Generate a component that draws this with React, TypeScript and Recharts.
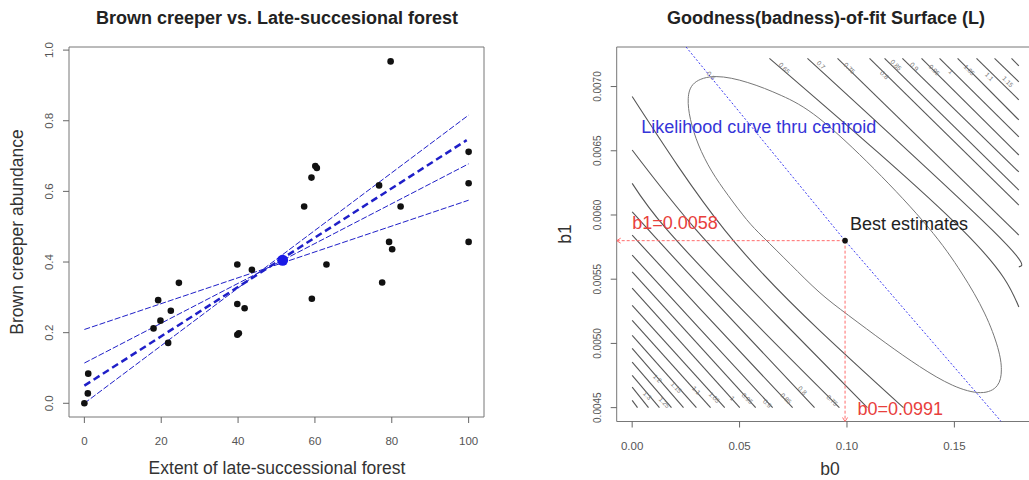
import React from "react";
import { ReferenceArea, Scatter, ScatterChart, XAxis, YAxis } from "recharts";

const FONT = '"Liberation Sans", Arial, sans-serif';

// ---- left panel: brown creeper vs. forest ----
const forestExtent = [79.7, 100, 100, 60.1, 60.5, 59.1, 57.2, 76.7, 82.3, 79.3, 80.1, 100, 63, 77.5, 59.2, 39.8, 43.6, 39.8, 41.7, 39.8, 40.2, 24.6, 19.2, 22.5, 19.8, 18.0, 21.8, 1.0, 0.9, 0];
const creeperAbundance = [0.968, 0.712, 0.623, 0.672, 0.666, 0.639, 0.557, 0.617, 0.557, 0.457, 0.436, 0.457, 0.393, 0.342, 0.296, 0.393, 0.378, 0.281, 0.269, 0.194, 0.198, 0.341, 0.292, 0.262, 0.234, 0.212, 0.171, 0.084, 0.028, 0.0];
const centroid = [51.6, 0.405];
const lineX = [0, 100];
const shallowLine = [0.209, 0.575];
const middleLine = [0.114, 0.678];
const steepLine = [0.0, 0.816];
const fitLineX = [0, 99.5];
const fitLine = [0.05, 0.745];
const forestTicks = [0, 20, 40, 60, 80, 100];
const abundanceTicks = [0, 0.2, 0.4, 0.6, 0.8, 1.0];
const forestDomain = [-4, 104];
const abundanceDomain = [-0.0388, 1.0088];

// ---- right panel: fit surface ----
const b0Ticks = [0, 0.05, 0.1, 0.15];
const b1Ticks = [0.0045, 0.005, 0.0055, 0.006, 0.0065, 0.007];
const b0Domain = [-0.0072, 0.1872];
const b1Domain = [0.004392, 0.007308];
const best = [0.0991, 0.0058];

// innermost contour (closed)
const innerContour = [
  [0.0383, 0.007097], [0.0538, 0.007039], [0.0694, 0.006935], [0.0849, 0.006805],
  [0.1128, 0.006366], [0.1399, 0.005882], [0.1539, 0.005544], [0.1648, 0.005232],
  [0.171, 0.004946], [0.1723, 0.00479], [0.171, 0.00466], [0.1632, 0.004595],
  [0.1493, 0.00466], [0.1338, 0.004816], [0.1183, 0.004998], [0.0996, 0.005232],
  [0.0872, 0.005388], [0.0737, 0.005617], [0.06, 0.005843], [0.0538, 0.005947],
  [0.0445, 0.006155], [0.0368, 0.006337], [0.0305, 0.006545], [0.0267, 0.006753],
  [0.0256, 0.00691], [0.0275, 0.007039],
];

// lower-left contour branches, levels 0.65 .. 1.4
const lowerContours = [
  [[0, 0.006922], [0.0431, 0.005882], [0.0872, 0.005102], [0.1263, 0.0045]],
  [[0, 0.006506], [0.0299, 0.005882], [0.0686, 0.005196], [0.1095, 0.0045]],
  [[0, 0.006246], [0.0164, 0.005882], [0.0546, 0.005204], [0.0965, 0.0045]],
  [[0, 0.006025], [0.0313, 0.005453], [0.0849, 0.0045]],
  [[0, 0.005843], [0.0313, 0.005274], [0.0747, 0.0045]],
  [[0, 0.005687], [0.0313, 0.005118], [0.0654, 0.0045]],
  [[0, 0.005557], [0.0575, 0.0045]],
  [[0, 0.00543], [0.0501, 0.0045]],
  [[0, 0.005297], [0.0431, 0.0045]],
  [[0, 0.00518], [0.0365, 0.0045]],
  [[0, 0.005063], [0.0299, 0.0045]],
  [[0, 0.004962], [0.0239, 0.0045]],
  [[0, 0.004855], [0.0183, 0.0045]],
  [[0, 0.004751], [0.0127, 0.0045]],
  [[0, 0.00466], [0.0076, 0.0045]],
  [[0, 0.004556], [0.0025, 0.0045]],
];

// upper-right contour branches, levels 0.65 .. 1.2
const upperContours = [
  [[0.0639, 0.00722], [0.1538, 0.005882], [0.18, 0.005284]],
  [[0.0816, 0.00722], [0.1677, 0.005882], [0.18, 0.005596]],
  [[0.0956, 0.00722], [0.18, 0.005843]],
  [[0.1105, 0.00722], [0.18, 0.006077]],
  [[0.1175, 0.00722], [0.18, 0.006194]],
  [[0.1258, 0.00722], [0.18, 0.006335]],
  [[0.1347, 0.00722], [0.18, 0.006467]],
  [[0.1431, 0.00722], [0.18, 0.006608]],
  [[0.1515, 0.00722], [0.18, 0.00674]],
  [[0.1603, 0.00722], [0.18, 0.006896]],
  [[0.1687, 0.00722], [0.18, 0.007037]],
  [[0.1766, 0.00722], [0.18, 0.007161]],
];

const contourLabels = ["0.6", "0.65", "0.7", "0.75", "0.8", "0.85", "0.9", "0.95", "1", "1.05", "1.1", "1.15", "1.3", "1.25", "1.2", "1.15", "1.1", "1.05", "1", "0.95", "0.9", "0.85", "0.8", "0.75"];
const contourLabelB0 = [0.0368, 0.0709, 0.088, 0.1012, 0.1175, 0.1229, 0.1314, 0.1407, 0.1485, 0.157, 0.1663, 0.1749, 0.0071, 0.015, 0.0118, 0.0206, 0.0299, 0.0383, 0.0467, 0.0537, 0.063, 0.0717, 0.0793, 0.0932];
const contourLabelB1 = [0.007086, 0.007144, 0.007169, 0.007144, 0.007091, 0.007169, 0.007156, 0.00713, 0.007117, 0.00713, 0.007078, 0.007039, 0.004595, 0.004541, 0.004728, 0.004658, 0.004635, 0.00458, 0.004572, 0.004572, 0.004533, 0.004572, 0.004635, 0.004556];

const likelihoodCurve = [[0.0251, 0.007308], [0.0991, 0.0058], [0.1718, 0.004392]];

const annotations = [
  { x: 0.0042, y: 0.006688, label: "Likelihood curve thru centroid", color: "#3535d8" },
  { x: 0.1014, y: 0.005929, label: "Best estimates", color: "#222" },
  { x: 0.0, y: 0.005939, label: "b1=0.0058", color: "#e8403c" },
  { x: 0.1049, y: 0.004492, label: "b0=0.0991", color: "#e8403c" },
];

// arrow tips of the red guide lines: rotation 0 = pointing left, -90 = pointing down
const arrowTips = [
  { x: b0Domain[0], y: best[1], rot: 0 },
  { x: best[0], y: b1Domain[0], rot: -90 },
];

const pairsToPts = (pairs: number[][]) => pairs.map(([x, y]) => ({ x, y }));

const NoDot = () => <g />;

const xTick = (fmt: (v: number) => string) => (p: any) => (
  <text x={p.x} y={p.y} dy={20} textAnchor="middle" fill="#555" fontSize={11.5} fontFamily={FONT}>
    {fmt(p.payload.value)}
  </text>
);

const yTick = (fmt: (v: number) => string, size: number) => (p: any) => {
  const bx = p.x - 7.5;
  return (
    <text x={bx} y={p.y} transform={`rotate(-90 ${bx} ${p.y})`} textAnchor="middle" fill="#555" fontSize={size} fontFamily={FONT}>
      {fmt(p.payload.value)}
    </text>
  );
};

const Caption = ({ x, y, size, text, bold, rotate, color }: any) => (
  <div
    style={{
      position: "absolute",
      left: x,
      top: y,
      transform: `translate(-50%, -50%)${rotate ? " rotate(-90deg)" : ""}`,
      fontSize: size,
      fontWeight: bold ? "bold" : "normal",
      color: color || "#333",
      whiteSpace: "nowrap",
      lineHeight: 1,
    }}
  >
    {text}
  </div>
);

const LeftPanel = () => {
  const points = forestExtent.map((x, i) => ({ x, y: creeperAbundance[i] }));
  const straight = [shallowLine, middleLine, steepLine];
  return (
    <ScatterChart width={520} height={480} margin={{ top: 47, right: 36, bottom: 33, left: 39 }}>
      <XAxis type="number" dataKey="x" domain={forestDomain} ticks={forestTicks} allowDataOverflow interval={0}
        axisLine={false} tickLine={{ stroke: "#666" }} tickSize={6} height={30} tick={xTick((v) => String(v))} />
      <YAxis type="number" dataKey="y" domain={abundanceDomain} ticks={abundanceTicks} allowDataOverflow interval={0}
        axisLine={false} tickLine={{ stroke: "#666" }} tickSize={6} width={30} tick={yTick((v) => v.toFixed(1), 11.5)} />
      <ReferenceArea x1={forestDomain[0]} x2={forestDomain[1]} y1={abundanceDomain[0]} y2={abundanceDomain[1]}
        fill="none" stroke="#777" strokeWidth={1} ifOverflow="visible" />
      {straight.map((ys, i) => (
        <Scatter key={i} data={lineX.map((x, j) => ({ x, y: ys[j] }))} shape={NoDot} isAnimationActive={false}
          line={{ stroke: "#1f1fc8", strokeWidth: 1, strokeDasharray: "6 2" }} />
      ))}
      <Scatter data={fitLineX.map((x, j) => ({ x, y: fitLine[j] }))} shape={NoDot} isAnimationActive={false}
        line={{ stroke: "#1f1fc8", strokeWidth: 2.5, strokeDasharray: "7 4" }} />
      <Scatter data={points} isAnimationActive={false}
        shape={(p: any) => <circle cx={p.cx} cy={p.cy} r={3.3} fill="#111" />} />
      <Scatter data={[{ x: centroid[0], y: centroid[1] }]} isAnimationActive={false}
        shape={(p: any) => <circle cx={p.cx} cy={p.cy} r={5.5} fill="#1a1ae6" />} />
    </ScatterChart>
  );
};

const RightPanel = () => {
  const labels = contourLabels.map((label, i) => ({ x: contourLabelB0[i], y: contourLabelB1[i], label }));
  return (
    <ScatterChart width={520} height={480} margin={{ top: 47, right: 5.7, bottom: 28.5, left: 66.7 }}>
      <XAxis type="number" dataKey="x" domain={b0Domain} ticks={b0Ticks} allowDataOverflow interval={0}
        axisLine={false} tickLine={{ stroke: "#666" }} tickSize={6} height={30} tick={xTick((v) => v.toFixed(2))} />
      <YAxis type="number" dataKey="y" domain={b1Domain} ticks={b1Ticks} allowDataOverflow interval={0}
        axisLine={false} tickLine={{ stroke: "#666" }} tickSize={6} width={30} tick={yTick((v) => v.toFixed(4), 10)} />
      <ReferenceArea x1={b0Domain[0]} x2={b0Domain[1]} y1={b1Domain[0]} y2={b1Domain[1]}
        fill="none" stroke="#777" strokeWidth={1} ifOverflow="visible" />
      <Scatter data={pairsToPts(innerContour)} shape={NoDot} isAnimationActive={false}
        line={{ stroke: "#777", strokeWidth: 1 }} lineJointType="basisClosed" />
      {lowerContours.map((c, i) => (
        <Scatter key={"lo" + i} data={pairsToPts(c)} shape={NoDot} isAnimationActive={false}
          line={{ stroke: "#555", strokeWidth: 1.1 }} lineJointType="natural" />
      ))}
      {upperContours.map((c, i) => (
        <Scatter key={"up" + i} data={pairsToPts(c)} shape={NoDot} isAnimationActive={false}
          line={{ stroke: "#555", strokeWidth: 1.1 }} lineJointType="natural" />
      ))}
      <Scatter data={labels} isAnimationActive={false}
        shape={(p: any) => (
          <text x={p.cx} y={p.cy} transform={`rotate(45 ${p.cx} ${p.cy})`} textAnchor="middle"
            dominantBaseline="central" fontSize={6.5} fill="#777" fontFamily={FONT}>
            {p.payload.label}
          </text>
        )} />
      <Scatter data={pairsToPts(likelihoodCurve)} shape={NoDot} isAnimationActive={false}
        line={{ stroke: "#3a3af0", strokeWidth: 1, strokeDasharray: "2 2" }} />
      <Scatter data={pairsToPts([[b0Domain[0], best[1]], best])} shape={NoDot} isAnimationActive={false}
        line={{ stroke: "#ff6b6b", strokeWidth: 1, strokeDasharray: "3 2" }} />
      <Scatter data={pairsToPts([best, [best[0], b1Domain[0]]])} shape={NoDot} isAnimationActive={false}
        line={{ stroke: "#ff6b6b", strokeWidth: 1, strokeDasharray: "3 2" }} />
      <Scatter data={arrowTips} isAnimationActive={false}
        shape={(p: any) => (
          <path d={`M ${p.cx + 4} ${p.cy - 2.5} L ${p.cx} ${p.cy} L ${p.cx + 4} ${p.cy + 2.5}`}
            transform={`rotate(${p.payload.rot} ${p.cx} ${p.cy})`} fill="none" stroke="#ff6b6b" strokeWidth={1} />
        )} />
      <Scatter data={[{ x: best[0], y: best[1] }]} isAnimationActive={false}
        shape={(p: any) => <circle cx={p.cx} cy={p.cy} r={2.8} fill="#111" />} />
      <Scatter data={annotations} isAnimationActive={false}
        shape={(p: any) => (
          <text x={p.cx} y={p.cy} textAnchor="start" dominantBaseline="central" fontSize={18}
            fill={p.payload.color} fontFamily={FONT}>
            {p.payload.label}
          </text>
        )} />
    </ScatterChart>
  );
};

export default function App() {
  return (
    <div style={{ position: "absolute", left: 0, top: 0, width: 1029, height: 480, overflow: "hidden", background: "#fff", fontFamily: FONT }}>
      <div style={{ position: "absolute", left: 0, top: 0 }}>
        <LeftPanel />
      </div>
      <div style={{ position: "absolute", left: 520, top: 0 }}>
        <RightPanel />
      </div>
      <Caption x={277} y={18} size={18} bold text="Brown creeper vs. Late-succesional forest" color="#222" />
      <Caption x={826} y={18} size={18} bold text="Goodness(badness)-of-fit Surface (L)" color="#222" />
      <Caption x={277} y={469} size={17.5} text="Extent of late-successional forest" />
      <Caption x={18} y={232} size={17.5} rotate text="Brown creeper abundance" />
      <Caption x={830} y={470} size={17.5} text="b0" />
      <Caption x={566} y={234} size={17.5} rotate text="b1" />
    </div>
  );
}
